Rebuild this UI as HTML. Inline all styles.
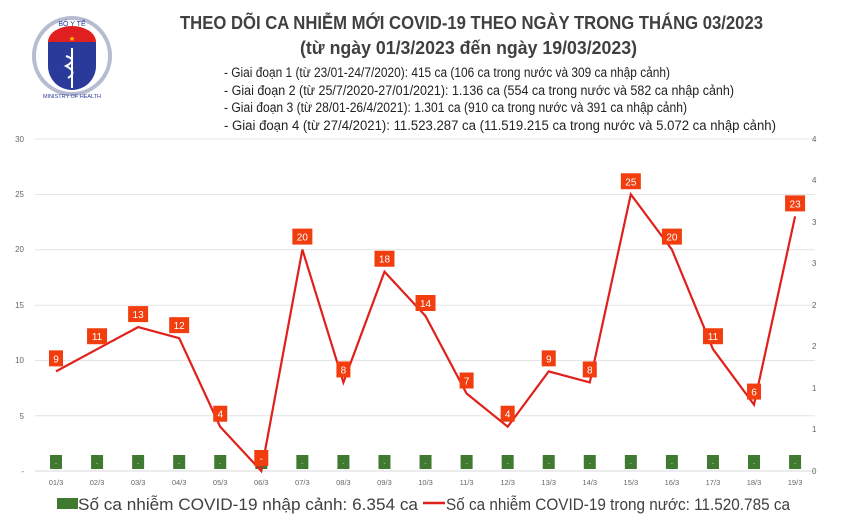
<!DOCTYPE html>
<html><head><meta charset="utf-8"><style>
body{margin:0;background:#fff}
svg{display:block;font-family:"Liberation Sans",sans-serif}
</style></head><body>
<svg width="843" height="519" viewBox="0 0 843 519" xmlns="http://www.w3.org/2000/svg">
<rect width="843" height="519" fill="#fff"/>
<!-- logo -->
<g transform="translate(0,6)">
<circle cx="72" cy="50" r="38" fill="none" stroke="#b8bcd0" stroke-width="4"/>
<path d="M48 36 H96 V60 A24 24 0 0 1 48 60 Z" fill="#2a3a9a"/>
<path d="M48 36 A24 16 0 0 1 96 36 Z" fill="#e02020"/>
<text x="72" y="35" font-size="7" fill="#ffd000" text-anchor="middle">★</text>
<line x1="72" y1="42" x2="72" y2="82" stroke="#fff" stroke-width="2"/>
<path d="M66 50 Q78 54 66 60 Q78 66 68 72" fill="none" stroke="#fff" stroke-width="2"/>
<text x="72" y="20" font-size="7" fill="#2a3a9a" text-anchor="middle">BỘ Y TẾ</text>
<text x="72" y="92" font-size="5.5" fill="#2a3a9a" text-anchor="middle">MINISTRY OF HEALTH</text>
</g>
<!-- titles -->
<g fill="#404040">
<text x="180" y="29" font-size="18" font-weight="bold" textLength="583" lengthAdjust="spacingAndGlyphs">THEO DÕI CA NHIỄM MỚI COVID-19 THEO NGÀY TRONG THÁNG 03/2023</text>
<text x="300" y="54" font-size="18" font-weight="bold" textLength="337" lengthAdjust="spacingAndGlyphs">(từ ngày 01/3/2023 đến ngày 19/03/2023)</text>
</g>
<g fill="#222" font-size="13.5">
<text x="224" y="77" textLength="446" lengthAdjust="spacingAndGlyphs">- Giai đoạn 1 (từ 23/01-24/7/2020): 415 ca (106 ca trong nước và 309 ca nhập cảnh)</text>
<text x="224" y="95" textLength="510" lengthAdjust="spacingAndGlyphs">- Giai đoạn 2 (từ 25/7/2020-27/01/2021): 1.136 ca (554 ca trong nước và 582 ca nhập cảnh)</text>
<text x="224" y="112" textLength="463" lengthAdjust="spacingAndGlyphs">- Giai đoạn 3 (từ 28/01-26/4/2021): 1.301 ca (910 ca trong nước và 391 ca nhập cảnh)</text>
<text x="224" y="130" textLength="552" lengthAdjust="spacingAndGlyphs">- Giai đoạn 4 (từ 27/4/2021): 11.523.287 ca (11.519.215 ca trong nước và 5.072 ca nhập cảnh)</text>
</g>
<!-- grid -->
<g stroke="#e4e4e4" stroke-width="1">
<line x1="35" x2="815" y1="139" y2="139"/>
<line x1="35" x2="815" y1="194.5" y2="194.5"/>
<line x1="35" x2="815" y1="249.8" y2="249.8"/>
<line x1="35" x2="815" y1="305.2" y2="305.2"/>
<line x1="35" x2="815" y1="360.5" y2="360.5"/>
<line x1="35" x2="815" y1="415.8" y2="415.8"/>
<line x1="35" x2="815" y1="471" y2="471" stroke="#d8d8d8"/>
</g>
<g font-size="8" fill="#666" text-anchor="end">
<text x="24" y="142">30</text><text x="24" y="197">25</text><text x="24" y="252">20</text>
<text x="24" y="308">15</text><text x="24" y="363">10</text><text x="24" y="419">5</text><text x="24" y="474">-</text>
</g>
<g font-size="8" fill="#666">
<text x="812" y="142">4</text><text x="812" y="183">4</text><text x="812" y="225">3</text>
<text x="812" y="266">3</text><text x="812" y="308">2</text><text x="812" y="349">2</text>
<text x="812" y="391">1</text><text x="812" y="432">1</text><text x="812" y="474">0</text>
</g>
<g id="x" font-size="7.5" fill="#666" text-anchor="middle"></g>
<g id="bars"></g>
<polyline id="ln" fill="none" stroke="#e0201b" stroke-width="2.2" stroke-linejoin="miter"/>
<g id="lbl" font-size="10" fill="#fff" text-anchor="middle"></g>
<!-- legend -->
<rect x="57" y="498" width="21" height="11" fill="#3f7a30"/>
<text x="78" y="510" font-size="17" fill="#404040" textLength="340" lengthAdjust="spacingAndGlyphs">Số ca nhiễm COVID-19 nhập cảnh: 6.354 ca</text>
<line x1="423" y1="503" x2="445" y2="503" stroke="#e0201b" stroke-width="2.5"/>
<text x="446" y="510" font-size="17" fill="#404040" textLength="344" lengthAdjust="spacingAndGlyphs">Số ca nhiễm COVID-19 trong nước: 11.520.785 ca</text>
</svg>
<script>
var d=[9,11,13,12,4,0,20,8,18,14,7,4,9,8,25,20,11,6,23];
var ns="http://www.w3.org/2000/svg";
function el(t,a,p,txt){var e=document.createElementNS(ns,t);for(var k in a)e.setAttribute(k,a[k]);if(txt!=null)e.textContent=txt;document.getElementById(p).appendChild(e);return e;}
var pts=[];
for(var i=0;i<19;i++){
 var x=56+i*41.06, y=471-d[i]*11.07;
 pts.push(x.toFixed(1)+","+y.toFixed(1));
 el("text",{x:x,y:485},"x",(i<9?"0":"")+(i+1)+"/3");
 el("rect",{x:x-6,y:455,width:12,height:14,fill:"#3f7a30"},"bars");
 el("text",{x:x,y:465,"font-size":"6",fill:"#cfe0c8","text-anchor":"middle"},"bars","-");
}
document.getElementById("ln").setAttribute("points",pts.join(" "));
for(var i=0;i<19;i++){
 var x=56+i*41.06, y=471-d[i]*11.07-13;
 var w=d[i]>=10?20:14;
 el("rect",{x:x-w/2,y:y-8,width:w,height:16,fill:"#f23d0f"},"lbl");
 el("text",{x:x,y:y+4},"lbl",d[i]==0?"-":String(d[i]));
}
</script>
</body></html>
